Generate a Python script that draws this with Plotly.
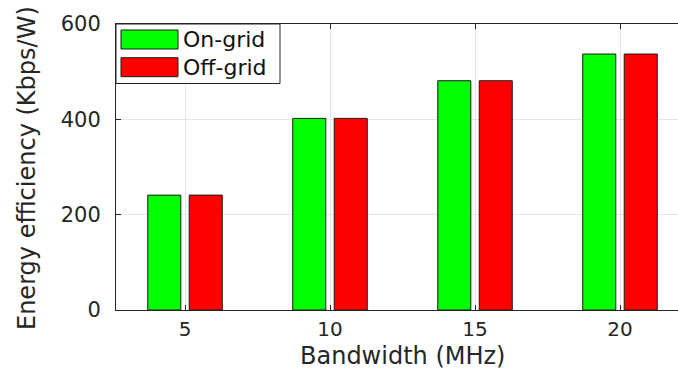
import plotly.graph_objects as go

# Energy efficiency per bandwidth, on-grid vs off-grid
bandwidth = [5, 10, 15, 20]
on_grid = [241, 402, 481, 537]
off_grid = [241, 402, 481, 537]
series_names = ["On-grid", "Off-grid"]
series_colors = ["#00ff00", "#ff0000"]
y_ticks = [0, 200, 400, 600]
x_title = "Bandwidth (MHz)"
y_title = "Energy efficiency (Kbps/W)"

W, H = 678, 371
L, R, T, B = 116, 0, 24, 61
PW, PH = W - L - R, H - T - B
FONT = "DejaVu Sans"
INK = "#262626"


def px(x):
    return (x - L) / PW


def py(y):
    return (H - B - y) / PH


fig = go.Figure()
for name, vals, col in zip(series_names, [on_grid, off_grid], series_colors):
    fig.add_trace(go.Bar(
        x=bandwidth, y=vals, name=name,
        marker=dict(color=col, line=dict(color="#1a1a1a", width=1)),
        showlegend=False,
    ))

axis_common = dict(
    showline=True, linecolor=INK, linewidth=1,
    ticks="inside", ticklen=5, tickcolor=INK, tickwidth=1,
    showgrid=True, gridcolor="#e6e6e6", gridwidth=1,
    zeroline=False,
)

fig.update_xaxes(
    **axis_common,
    range=[2.62, 22.0], tickvals=bandwidth, mirror="ticks",
    ticklabelstandoff=1,
    tickfont=dict(family=FONT, size=20, color=INK),
)
fig.update_yaxes(
    **axis_common,
    range=[0, 600], tickvals=y_ticks, mirror=False,
    ticklabelstandoff=10,
    tickfont=dict(family=FONT, size=21, color=INK),
)

# Axis titles
annotations = [
    dict(xref="paper", yref="paper", x=px(402), y=py(356), text=x_title,
         showarrow=False, xanchor="center", yanchor="middle",
         font=dict(family=FONT, size=24, color=INK)),
    dict(xref="paper", yref="paper", x=px(27), y=py(168), text=y_title,
         showarrow=False, xanchor="center", yanchor="middle", textangle=-90,
         font=dict(family=FONT, size=24, color=INK)),
]

# Legend box in the upper-left corner of the axes
shapes = [dict(type="rect", xref="paper", yref="paper",
               x0=px(116), x1=px(280), y0=py(83.5), y1=py(24),
               fillcolor="white", line=dict(color=INK, width=1), layer="above")]
for i, (name, col) in enumerate(zip(series_names, series_colors)):
    top = 30 + i * 27.7
    shapes.append(dict(type="rect", xref="paper", yref="paper",
                       x0=px(121), x1=px(178), y0=py(top + 19), y1=py(top),
                       fillcolor=col, line=dict(color="#1a1a1a", width=1), layer="above"))
    annotations.append(dict(xref="paper", yref="paper", x=px(181), y=py(top + 9.5),
                            text=name, showarrow=False, xanchor="left", yanchor="middle",
                            font=dict(family=FONT, size=22, color="#111111")))

fig.update_layout(
    width=W, height=H,
    margin=dict(l=L, r=R, t=T, b=B, pad=0),
    paper_bgcolor="white", plot_bgcolor="white",
    barmode="group", bargap=0.428, bargroupgap=0.203,
    shapes=shapes, annotations=annotations,
)

fig.write_html("out.html")
